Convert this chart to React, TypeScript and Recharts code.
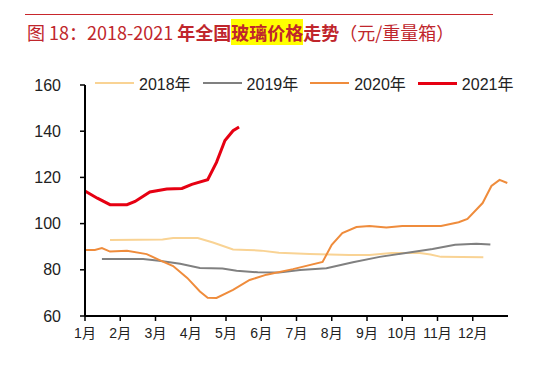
import { Line, LineChart, XAxis, YAxis } from "recharts";

// month position (0 = 1月) and price (元/重量箱)
const m2018 = [0.71, 1.5, 2.2, 2.5, 3.2, 3.63, 4.2, 4.6, 5.0, 5.5, 6.37, 7.5, 8.07, 8.7, 9.5, 9.8, 10.1, 11.3];
const v2018 = [92.9, 93, 93.1, 93.8, 93.8, 91.8, 88.8, 88.6, 88.3, 87.4, 86.8, 86.4, 86.4, 87.3, 87.3, 86.6, 85.6, 85.4];

const m2019 = [0.48, 1.65, 2.1, 2.7, 3.26, 3.9, 4.3, 4.9, 5.5, 6.1, 6.85, 7.6, 8.36, 9.1, 9.86, 10.5, 11.1, 11.5];
const v2019 = [84.7, 84.7, 83.9, 82.6, 80.8, 80.6, 79.6, 78.9, 78.8, 79.9, 80.7, 83.3, 85.6, 87.3, 89.0, 90.8, 91.3, 90.9];

const m2020 = [0, 0.28, 0.48, 0.71, 1.19, 1.75, 2.1, 2.5, 2.9, 3.26, 3.48, 3.73, 4.2, 4.67, 5.15, 5.9, 6.74, 7.0, 7.3, 7.7, 8.07, 8.55, 9.0, 10.1, 10.6, 10.85, 11.28, 11.53, 11.76, 11.98];
const v2020 = [88.6, 88.6, 89.4, 87.9, 88.2, 86.8, 84.3, 81.6, 76.5, 70.6, 67.9, 67.8, 71.3, 75.6, 77.9, 80.3, 83.4, 90.8, 95.9, 98.5, 99.0, 98.3, 99.0, 99.0, 100.6, 102, 108.9, 116.3, 118.9, 117.6];

const m2021 = [0, 0.35, 0.71, 1.19, 1.42, 1.84, 2.32, 2.75, 3.03, 3.48, 3.73, 3.97, 4.2, 4.37];
const v2021 = [114.1, 111, 108.2, 108.2, 109.6, 113.7, 115, 115.2, 117, 119, 126.5, 136, 140.2, 141.8];

const monthTicks = [0, 1, 2, 3, 4, 5, 6, 7, 8, 9, 10, 11];
const yTicks = [60, 80, 100, 120, 140, 160];

const SERIES = [
  { name: "2018年", m: m2018, v: v2018, color: "#f9d394", width: 2 },
  { name: "2019年", m: m2019, v: v2019, color: "#808080", width: 2 },
  { name: "2020年", m: m2020, v: v2020, color: "#ef8c3c", width: 2 },
  { name: "2021年", m: m2021, v: v2021, color: "#e60012", width: 3 },
];

const FONT = '"Liberation Sans", Arial, "Noto Sans CJK SC", sans-serif';

function toRows(m: number[], v: number[]) {
  return m.map((x, i) => ({ m: x, v: v[i] }));
}

export default function App() {
  return (
    <div
      style={{
        position: "absolute",
        left: 0,
        top: 0,
        width: 554,
        height: 368,
        background: "#fff",
        fontFamily: FONT,
        overflow: "hidden",
      }}
    >
      <div
        style={{
          position: "absolute",
          left: 25,
          top: 14,
          width: 468,
          height: 1,
          background: "#c8262c",
        }}
      />
      <div
        style={{
          position: "absolute",
          left: 27,
          top: 20,
          fontSize: 18,
          color: "#c0262c",
          whiteSpace: "nowrap",
          fontFamily: '"Noto Sans CJK SC", sans-serif',
          lineHeight: "24px",
        }}
      >
        图 18：2018-2021{" "}
        <span style={{ fontWeight: 700 }}>
          年全国<span style={{ background: "#ffff00" }}>玻璃价格</span>走势
        </span>
        （元/重量箱）
      </div>

      <div
        style={{
          position: "absolute",
          left: 95,
          top: 71,
          display: "flex",
          alignItems: "center",
          fontSize: 16,
          color: "#222",
          whiteSpace: "nowrap",
        }}
      >
        {SERIES.map((s) => (
          <div key={s.name} style={{ display: "flex", alignItems: "center", marginRight: 12 }}>
            <span
              style={{
                display: "inline-block",
                width: 39,
                height: s.width,
                background: s.color,
                marginRight: 5,
              }}
            />
            <span>{s.name}</span>
          </div>
        ))}
      </div>

      <div style={{ position: "absolute", left: 0, top: 0 }}>
        <LineChart
          width={554}
          height={368}
          margin={{ top: 85, right: 46, bottom: 22, left: 35 }}
        >
          <XAxis
            type="number"
            dataKey="m"
            domain={[0, 12]}
            ticks={monthTicks}
            tickFormatter={(i: number) => `${i + 1}月`}
            axisLine={{ stroke: "#000", strokeWidth: 2 }}
            tickLine={{ stroke: "#000", strokeWidth: 1.5 }}
            tickSize={5}
            tickMargin={7}
            tick={{ fill: "#222", fontSize: 14, fontFamily: FONT }}
            allowDataOverflow
            height={30}
          />
          <YAxis
            type="number"
            domain={[60, 160]}
            ticks={yTicks}
            axisLine={{ stroke: "#000", strokeWidth: 2 }}
            tickLine={{ stroke: "#000", strokeWidth: 1.5 }}
            tickSize={5}
            tickMargin={19}
            tick={{ fill: "#222", fontSize: 16, fontFamily: FONT }}
            width={50}
          />
          {SERIES.map((s) => (
            <Line
              key={s.name}
              data={toRows(s.m, s.v)}
              dataKey="v"
              name={s.name}
              type="linear"
              stroke={s.color}
              strokeWidth={s.width}
              dot={false}
              isAnimationActive={false}
            />
          ))}
        </LineChart>
      </div>
    </div>
  );
}
